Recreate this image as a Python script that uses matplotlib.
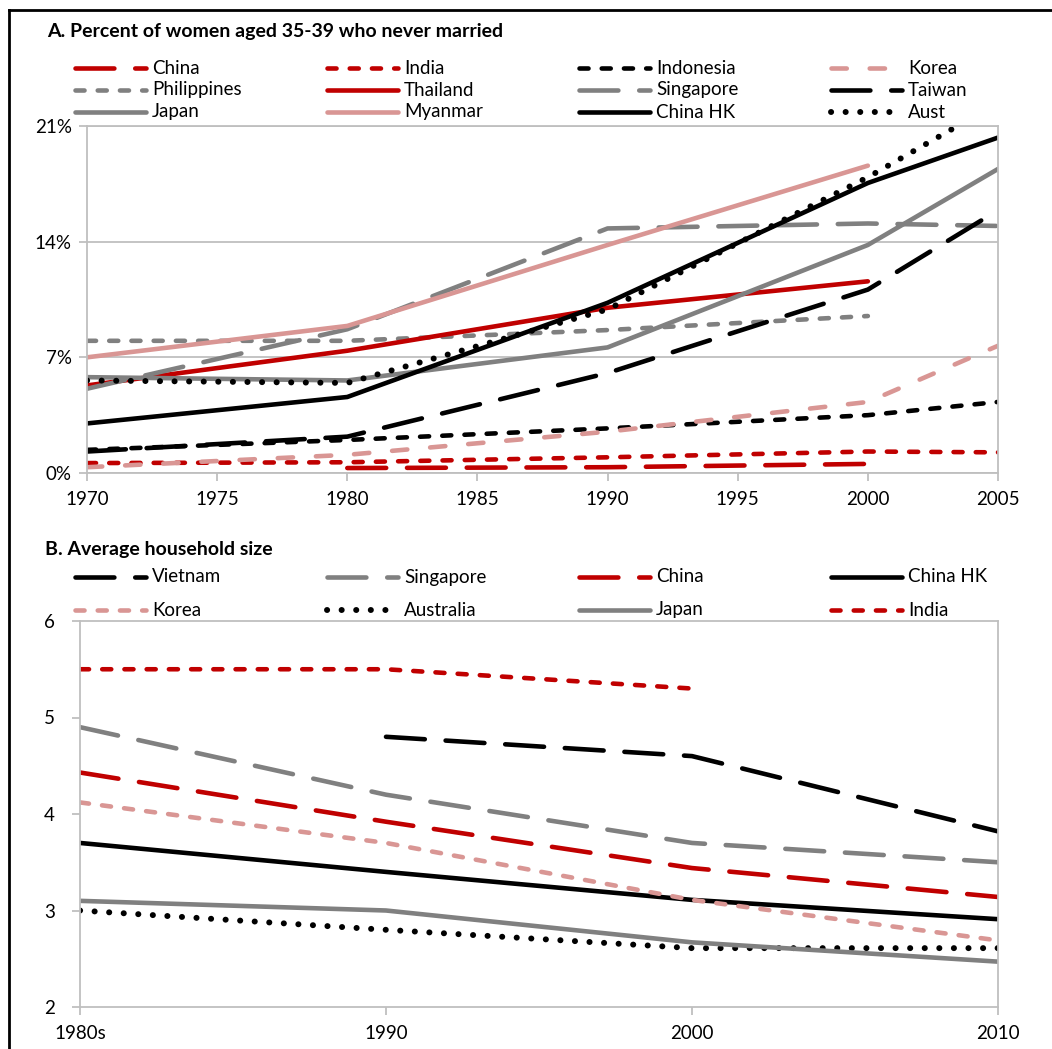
import numpy as np
import matplotlib
matplotlib.use("Agg")
import matplotlib.pyplot as plt
from matplotlib.lines import Line2D

plt.rcParams['font.family'] = ['Lato', 'DejaVu Sans']
plt.rcParams['lines.scale_dashes'] = False

nan = np.nan

# Panel A: percent of women aged 35-39 never married
years_a = [1970, 1980, 1990, 2000, 2005]
china_a = [nan, 0.3, 0.35, 0.55, nan]
india_a = [0.6, 0.65, 0.95, 1.3, 1.25]
indonesia_a = [1.4, 2.0, 2.7, 3.5, 4.3]
korea_a = [0.35, 1.1, 2.5, 4.3, 7.7]
philippines_a = [8.0, 8.0, 8.65, 9.5, nan]
thailand_a = [5.3, 7.4, 10.0, 11.6, nan]
singapore_a = [5.1, 8.7, 14.8, 15.1, 14.95]
taiwan_a = [1.3, 2.2, 6.05, 11.1, 15.9]
japan_a = [5.8, 5.6, 7.6, 13.8, 18.4]
myanmar_a = [7.0, 8.9, 13.8, 18.6, nan]
chinahk_a = [3.0, 4.6, 10.3, 17.55, 20.3]
aust_a = [5.6, 5.45, 9.9, 17.9, 22.4]

# Panel B: average household size
periods_b = ["1980s", "1990", "2000", "2010"]
vietnam_b = [nan, 4.8, 4.6, 3.82]
singapore_b = [4.9, 4.2, 3.7, 3.5]
china_b = [4.43, 3.92, 3.44, 3.14]
chinahk_b = [3.7, 3.4, 3.11, 2.91]
korea_b = [4.12, 3.7, 3.11, 2.69]
australia_b = [3.0, 2.8, 2.61, 2.61]
japan_b = [3.1, 3.0, 2.67, 2.47]
india_b = [5.5, 5.5, 5.3, nan]

RED = "#C00000"
PINK = "#D99694"
GRAY = "#808080"
BLACK = "#000000"
AXC = "#BFBFBF"

LW = 3.3
DOT_LW = 4.3
FS = 13.5
long_dash = dict(dashes=(28, 15), dash_capstyle="round")
short_dash = dict(dashes=(6.5, 9.5), dash_capstyle="round")
mid_dash = dict(dashes=(11, 16.5), dash_capstyle="round")
dots = dict(dashes=(0.1, 10.4), dash_capstyle="round")
solid = dict(linestyle="-", solid_capstyle="round")

W, H = 1052, 1049
fig = plt.figure(figsize=(W / 100, H / 100), dpi=100)


def px_axes(left, top, right, bottom):
    return fig.add_axes([left / W, 1 - bottom / H, (right - left) / W, (bottom - top) / H])


def style_axes(ax):
    for s in ax.spines.values():
        s.set_color(AXC)
        s.set_linewidth(1.3)
    ax.tick_params(colors=AXC, labelcolor="black", length=6, width=1.3,
                   labelsize=FS, direction="out")


def add_key(x, y, label, color, lw, style):
    fy = 1 - y / H
    fig.add_artist(Line2D([(x + 2) / W, (x + 73) / W], [fy, fy], transform=fig.transFigure,
                          color=color, lw=lw, **style))
    fig.text((x + 79) / W, fy, label, va="center", ha="left", fontsize=FS)


# Frame
fig.add_artist(Line2D([9 / W, 9 / W], [0, 1 - 10 / H], transform=fig.transFigure, color="black", lw=2))
fig.add_artist(Line2D([9 / W, 1], [1 - 10 / H, 1 - 10 / H], transform=fig.transFigure, color="black", lw=2))

# ---- Panel A
ax = px_axes(87, 126, 998, 473)
series_a = [
    ("China", china_a, RED, LW, long_dash),
    ("India", india_a, RED, LW, short_dash),
    ("Indonesia", indonesia_a, BLACK, LW, short_dash),
    ("Korea", korea_a, PINK, LW, mid_dash),
    ("Philippines", philippines_a, GRAY, LW, short_dash),
    ("Thailand", thailand_a, RED, LW, solid),
    ("Singapore", singapore_a, GRAY, LW, long_dash),
    ("Taiwan", taiwan_a, BLACK, LW, long_dash),
    ("Japan", japan_a, GRAY, LW, solid),
    ("Myanmar", myanmar_a, PINK, LW, solid),
    ("China HK", chinahk_a, BLACK, LW, solid),
    ("Aust", aust_a, BLACK, DOT_LW, dots),
]
for name, vals, c, lw, st in series_a:
    v = np.array(vals, dtype=float)
    m = ~np.isnan(v)
    ax.plot(np.array(years_a)[m], v[m], color=c, lw=lw, **st)

ax.set_xlim(1970, 2005)
ax.set_ylim(0, 21)
ax.set_xticks(range(1970, 2006, 5))
ax.set_yticks([0, 7, 14, 21])
ax.set_yticklabels(["0%", "7%", "14%", "21%"])
ax.grid(axis="y", color=AXC, lw=1.3)
ax.set_axisbelow(True)
style_axes(ax)
ax.tick_params(axis="x", pad=7)
ax.tick_params(axis="y", pad=5)

fig.text(47 / W, 1 - 32 / H, "A. Percent of women aged 35-39 who never married",
         fontsize=14, fontweight="bold", va="center")
cols = [73, 325, 577, 829]
rows_a = [68, 90, 112]
for i, (name, vals, c, lw, st) in enumerate(series_a):
    add_key(cols[i % 4], rows_a[i // 4], name, c, lw, st)

# ---- Panel B
bx = px_axes(80, 621, 998, 1007)
series_b = [
    ("Vietnam", vietnam_b, BLACK, LW, long_dash),
    ("Singapore", singapore_b, GRAY, LW, long_dash),
    ("China", china_b, RED, LW, long_dash),
    ("China HK", chinahk_b, BLACK, LW, solid),
    ("Korea", korea_b, PINK, LW, short_dash),
    ("Australia", australia_b, BLACK, DOT_LW, dots),
    ("Japan", japan_b, GRAY, LW, solid),
    ("India", india_b, RED, LW, short_dash),
]
xb = np.arange(len(periods_b))
for name, vals, c, lw, st in series_b:
    v = np.array(vals, dtype=float)
    m = ~np.isnan(v)
    bx.plot(xb[m], v[m], color=c, lw=lw, **st)

bx.set_xlim(0, 3)
bx.set_ylim(2, 6)
bx.set_xticks(xb)
bx.set_xticklabels(periods_b)
bx.set_yticks([2, 3, 4, 5, 6])
style_axes(bx)
bx.tick_params(axis="x", pad=7)
bx.tick_params(axis="y", pad=12)

fig.text(45 / W, 1 - 550 / H, "B. Average household size",
         fontsize=14, fontweight="bold", va="center")
rows_b = [577, 610]
for i, (name, vals, c, lw, st) in enumerate(series_b):
    add_key(cols[i % 4], rows_b[i // 4], name, c, lw, st)

fig.savefig("out.png", dpi=100)
